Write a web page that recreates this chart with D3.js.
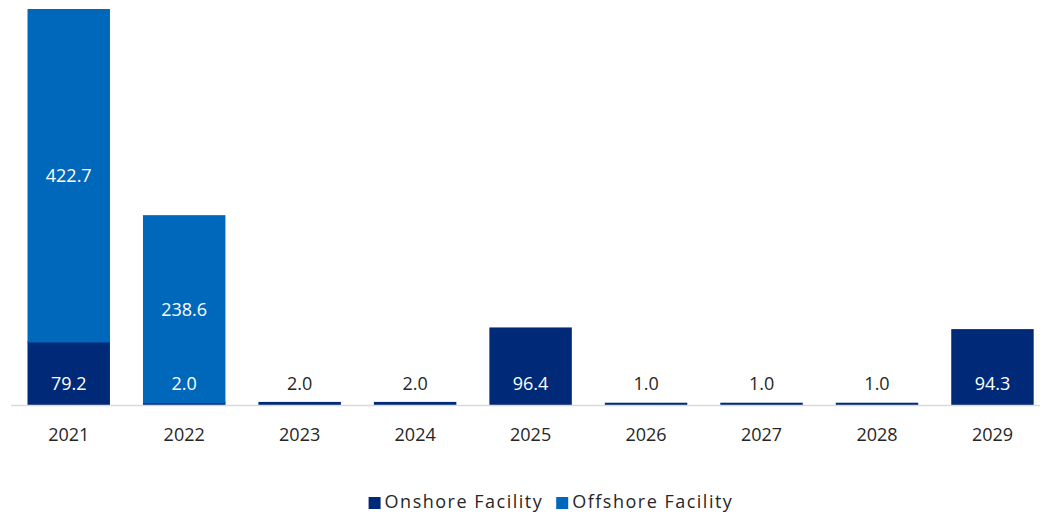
<!DOCTYPE html>
<html>
<head>
<meta charset="utf-8">
<script src="https://cdn.jsdelivr.net/npm/d3@7/dist/d3.min.js"></script>
<style>
  html, body { margin: 0; padding: 0; background: #fff; }
  svg { display: block; }
  text { font-family: "Open Sans", "DejaVu Sans", sans-serif; }
</style>
</head>
<body>
<svg id="chart" width="1040" height="513"></svg>
<script>
// Facility investment by year, stacked: onshore at the base, offshore on top
const years    = ["2021", "2022", "2023", "2024", "2025", "2026", "2027", "2028", "2029"];
const onshore  = [79.2, 2.0, 2.0, 2.0, 96.4, 1.0, 1.0, 1.0, 94.3];
const offshore = [422.7, 238.6, 0, 0, 0, 0, 0, 0, 0];
const seriesNames = ["Onshore Facility", "Offshore Facility"];

const colors = { onshore: "#002A78", offshore: "#0068BA" };
const textDark = "#262626";

const svg = d3.select("#chart");

const x = d3.scaleBand()
  .domain(years)
  .range([11, 1050.2])
  .paddingInner(0.286)
  .paddingOuter(0.143);

const y = d3.scaleLinear()
  .domain([0, 500])
  .range([405, 10.5]);

const rows = years.map((yr, i) => ({ year: yr, onshore: onshore[i], offshore: offshore[i] }));
const stacked = d3.stack().keys(["onshore", "offshore"])(rows);

// Bars (onshore segments get a thin lip so tiny values stay visible)
const g = svg.append("g");
stacked.forEach(layer => {
  const key = layer.key;
  const lip = key === "onshore" ? 1.5 : 0;
  g.selectAll(null)
    .data(layer.filter(d => d[1] - d[0] > 0))
    .join("rect")
    .attr("x", d => x(d.data.year))
    .attr("width", x.bandwidth())
    .attr("y", d => y(d[1]) - lip)
    .attr("height", d => y(d[0]) - y(d[1]) + lip)
    .attr("fill", colors[key]);
});

// Category axis line
svg.append("line")
  .attr("x1", 11).attr("x2", 1040)
  .attr("y1", 405.5).attr("y2", 405.5)
  .attr("stroke", "#D9D9D9")
  .attr("stroke-width", 1.5);

// Year labels
svg.append("g")
  .selectAll("text")
  .data(years)
  .join("text")
  .attr("x", d => x(d) + x.bandwidth() / 2)
  .attr("y", 441)
  .attr("text-anchor", "middle")
  .attr("font-size", 18)
  .attr("fill", textDark)
  .text(d => d);

// Onshore value labels, anchored near the bar base
svg.append("g")
  .selectAll("text")
  .data(rows)
  .join("text")
  .attr("x", d => x(d.year) + x.bandwidth() / 2)
  .attr("y", y(0) - 15)
  .attr("text-anchor", "middle")
  .attr("font-size", 18)
  .attr("fill", d => (d.offshore > 0 || y(0) - y(d.onshore) > 20) ? "#FFFFFF" : textDark)
  .text(d => d.onshore.toFixed(1));

// Offshore value labels, centred in their segment
svg.append("g")
  .selectAll("text")
  .data(rows.filter(d => d.offshore > 0))
  .join("text")
  .attr("x", d => x(d.year) + x.bandwidth() / 2)
  .attr("y", d => (y(d.onshore) + y(d.onshore + d.offshore)) / 2 + 6.5)
  .attr("text-anchor", "middle")
  .attr("font-size", 18)
  .attr("fill", "#FFFFFF")
  .text(d => d.offshore.toFixed(1));

// Legend
const legend = svg.append("g");
const legendColors = [colors.onshore, colors.offshore];
let lx = 0;
seriesNames.forEach((name, i) => {
  const item = legend.append("g");
  item.append("rect")
    .attr("x", 0).attr("y", -11)
    .attr("width", 12).attr("height", 12)
    .attr("fill", legendColors[i]);
  const t = item.append("text")
    .attr("x", 16)
    .attr("y", 0)
    .attr("font-size", 18)
    .attr("letter-spacing", 1.5)
    .attr("fill", textDark)
    .text(name);
  const w = 16 + t.node().getComputedTextLength();
  item.attr("transform", `translate(${lx},0)`);
  lx += w + 13;
});
const totalW = lx - 13;
legend.attr("transform", `translate(${551 - totalW / 2},508)`);
</script>
</body>
</html>
